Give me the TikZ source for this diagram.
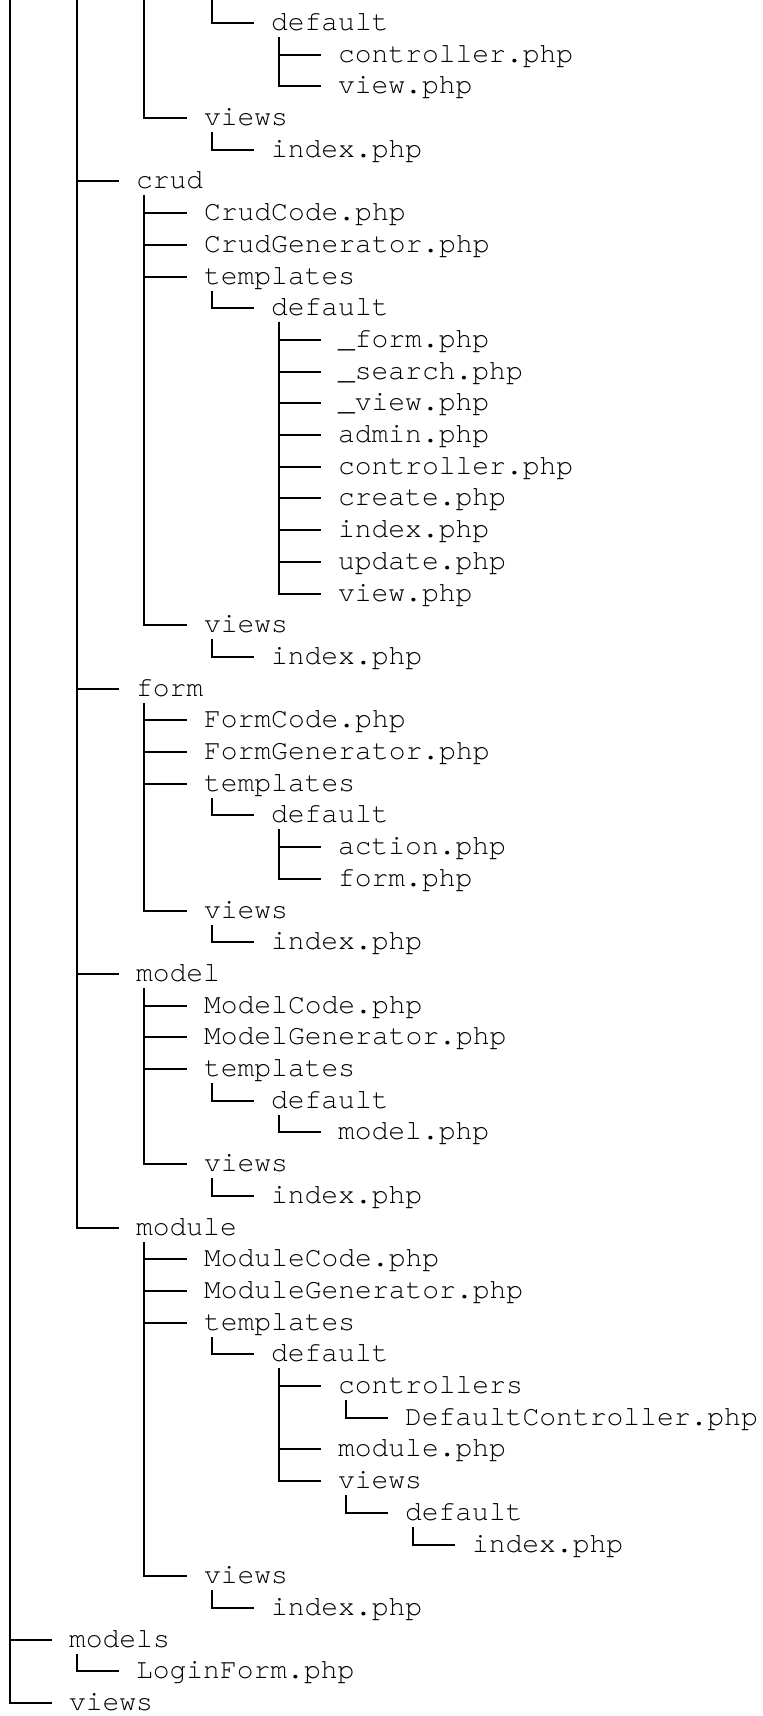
\documentclass[tikz,border=0pt]{standalone}
\usepackage{fontspec}
\newfontfamily\treefont{texgyrecursor-regular.otf}

\begin{document}
\begin{tikzpicture}[
    entry/.style={anchor=west, inner sep=0pt, text height=7.6pt, text depth=0pt,
      font=\treefont\fontsize{14}{15.85}\selectfont},
    branch/.style={line width=1pt, black}
  ]
    \useasboundingbox (0pt,0pt) rectangle (381pt,-858pt);

    % Entries of the listing, one per line: name / level / text
    \foreach \n/\l/\t [count=\r] in {
        ctlDef/4/default, ctlCtl/5/controller.php, ctlView/5/view.php,
        ctlViews/3/views, ctlIdx/4/index.php,
        crud/2/crud, crudCode/3/CrudCode.php, crudGen/3/CrudGenerator.php,
        crudTpl/3/templates, crudDef/4/default,
        crudForm/5/\_form.php, crudSearch/5/\_search.php, crudPart/5/\_view.php,
        crudAdmin/5/admin.php, crudCtl/5/controller.php, crudCreate/5/create.php,
        crudIndex/5/index.php, crudUpdate/5/update.php, crudView/5/view.php,
        crudViews/3/views, crudIdx/4/index.php,
        form/2/form, formCode/3/FormCode.php, formGen/3/FormGenerator.php,
        formTpl/3/templates, formDef/4/default,
        formAction/5/action.php, formForm/5/form.php,
        formViews/3/views, formIdx/4/index.php,
        model/2/model, modelCode/3/ModelCode.php, modelGen/3/ModelGenerator.php,
        modelTpl/3/templates, modelDef/4/default, modelModel/5/model.php,
        modelViews/3/views, modelIdx/4/index.php,
        module/2/module, modCode/3/ModuleCode.php, modGen/3/ModuleGenerator.php,
        modTpl/3/templates, modDef/4/default,
        modCtls/5/controllers, modDefCtl/6/DefaultController.php,
        modModule/5/module.php, modTplViews/5/views,
        modTplVDef/6/default, modTplVIdx/7/index.php,
        modViews/3/views, modIdx/4/index.php,
        models/1/models, loginForm/2/LoginForm.php,
        views/1/views}
      \node[entry] (\n) at ({0.5pt*round(10+67.2*\l)-4.2pt}, {-0.5pt*round(23+31.7*(\r-1))}) {\t};

    % Branches running in from above the top edge
    \coordinate (giiTop) at (5pt,0pt);
    \coordinate (genTop) at (38.5pt,0pt);
    \coordinate (ctlTop) at (72pt,0pt);
    \coordinate (tplTop) at (106pt,0pt);
    \foreach \p/\c in {giiTop/models, giiTop/views,
        genTop/crud, genTop/form, genTop/model, genTop/module,
        ctlTop/ctlViews, tplTop/ctlDef}
      \draw[branch] (\p) |- ([xshift=-8.4pt]\c.west);

    % Branches from parent to child
    \foreach \p/\c in {ctlDef/ctlCtl, ctlDef/ctlView, ctlViews/ctlIdx,
        crud/crudCode, crud/crudGen, crud/crudTpl, crud/crudViews, crudTpl/crudDef,
        crudDef/crudForm, crudDef/crudSearch, crudDef/crudPart, crudDef/crudAdmin,
        crudDef/crudCtl, crudDef/crudCreate, crudDef/crudIndex, crudDef/crudUpdate,
        crudDef/crudView, crudViews/crudIdx,
        form/formCode, form/formGen, form/formTpl, form/formViews, formTpl/formDef,
        formDef/formAction, formDef/formForm, formViews/formIdx,
        model/modelCode, model/modelGen, model/modelTpl, model/modelViews,
        modelTpl/modelDef, modelDef/modelModel, modelViews/modelIdx,
        module/modCode, module/modGen, module/modTpl, module/modViews, modTpl/modDef,
        modDef/modCtls, modDef/modModule, modDef/modTplViews, modCtls/modDefCtl,
        modTplViews/modTplVDef, modTplVDef/modTplVIdx, modViews/modIdx,
        models/loginForm}
      \draw[branch] ([xshift=4.2pt,yshift=-7pt]\p.west) |- ([xshift=-8.4pt]\c.west);

\end{tikzpicture}
\end{document}
